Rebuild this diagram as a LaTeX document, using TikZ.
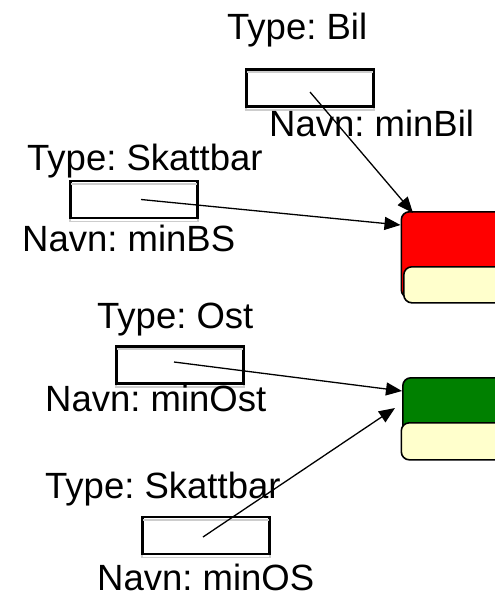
\documentclass[tikz,border=0pt]{standalone}
\usepackage{fontspec}
\setmainfont{Liberation Sans}
\usetikzlibrary{arrows.meta}
\frenchspacing
\definecolor{objred}{RGB}{255,0,0}
\definecolor{objgreen}{RGB}{0,128,0}
\definecolor{objcream}{RGB}{255,255,204}
\definecolor{shadowgray}{RGB}{205,205,205}
\tikzset{
  lbl/.style={anchor=base west, inner sep=0pt, font=\fontsize{36.5}{43}\selectfont},
  varbox/.style={draw=black, line width=1.6pt, minimum width=126pt, minimum height=36pt, inner sep=0pt},
  shadowline/.style={draw=shadowgray, line width=1.6pt},
  objpart/.style={draw=black, line width=1.6pt, rounded corners=8pt, anchor=north west, inner sep=0pt},
  ref/.style={draw=black, line width=1.3pt, -{Triangle[length=16pt,width=13pt]}}
}
\begin{document}
\begin{tikzpicture}[x=1pt,y=-1pt]
\useasboundingbox (0,0) rectangle (495,597);
\clip (0,0) rectangle (495,597);
\fill[white] (0,0) rectangle (495,597);

% objects
\node[objpart, fill=objred, minimum width=130pt, minimum height=86pt] (red) at (400.5,211) {};
\node[objpart, fill=objcream, minimum width=130pt, minimum height=36pt] (redlow) at (403,266) {};
\node[objpart, fill=objgreen, minimum width=130pt, minimum height=80pt] (green) at (402,377) {};
\node[objpart, fill=objcream, minimum width=130pt, minimum height=37pt] (greenlow) at (400.5,422) {};

% variable boxes
\node[varbox] (bil) at (310,88) {};
\node[varbox] (bs) at (134,199.5) {};
\node[varbox] (ost) at (180,365) {};
\node[varbox] (os) at (206,535.5) {};
\foreach \b in {bil,bs,ost,os}{
  \draw[shadowline] ([yshift=-3pt]\b.north west) rectangle ([yshift=-3pt]\b.south east);
  \draw[line width=1.6pt] (\b.north west) rectangle (\b.south east);
}

% labels
\node[lbl] (tbil) at (227,39) {Type: Bil};
\node[lbl] (nbil) at (269,136) {Navn: minBil};
\node[lbl] (tbs) at (27,170) {Type: Skattbar};
\node[lbl] (nbs) at (22,251) {Navn: minBS};
\node[lbl] (tost) at (97,328) {Type: Ost};
\node[lbl] (nost) at (45,411) {Navn: minOst};
\node[lbl] (tos) at (45,498) {Type: Skattbar};
\node[lbl, text depth=0pt] (nos) at (97,590) {Navn: minOS};

% references
\draw[ref] ([yshift=-4pt]bil.center) -- ([shift={(12.5pt,-2pt)}]red.north west);
\draw[ref] ([xshift=7pt]bs.center) -- ([yshift=-14pt]red.north west);
\draw[ref] ([shift={(-6pt,3pt)}]ost.center) -- ([yshift=-14pt]green.north west);
\draw[ref] ([shift={(-3pt,-1.5pt)}]os.center) -- ([shift={(-7pt,-31pt)}]green.north west);
\end{tikzpicture}
\end{document}
